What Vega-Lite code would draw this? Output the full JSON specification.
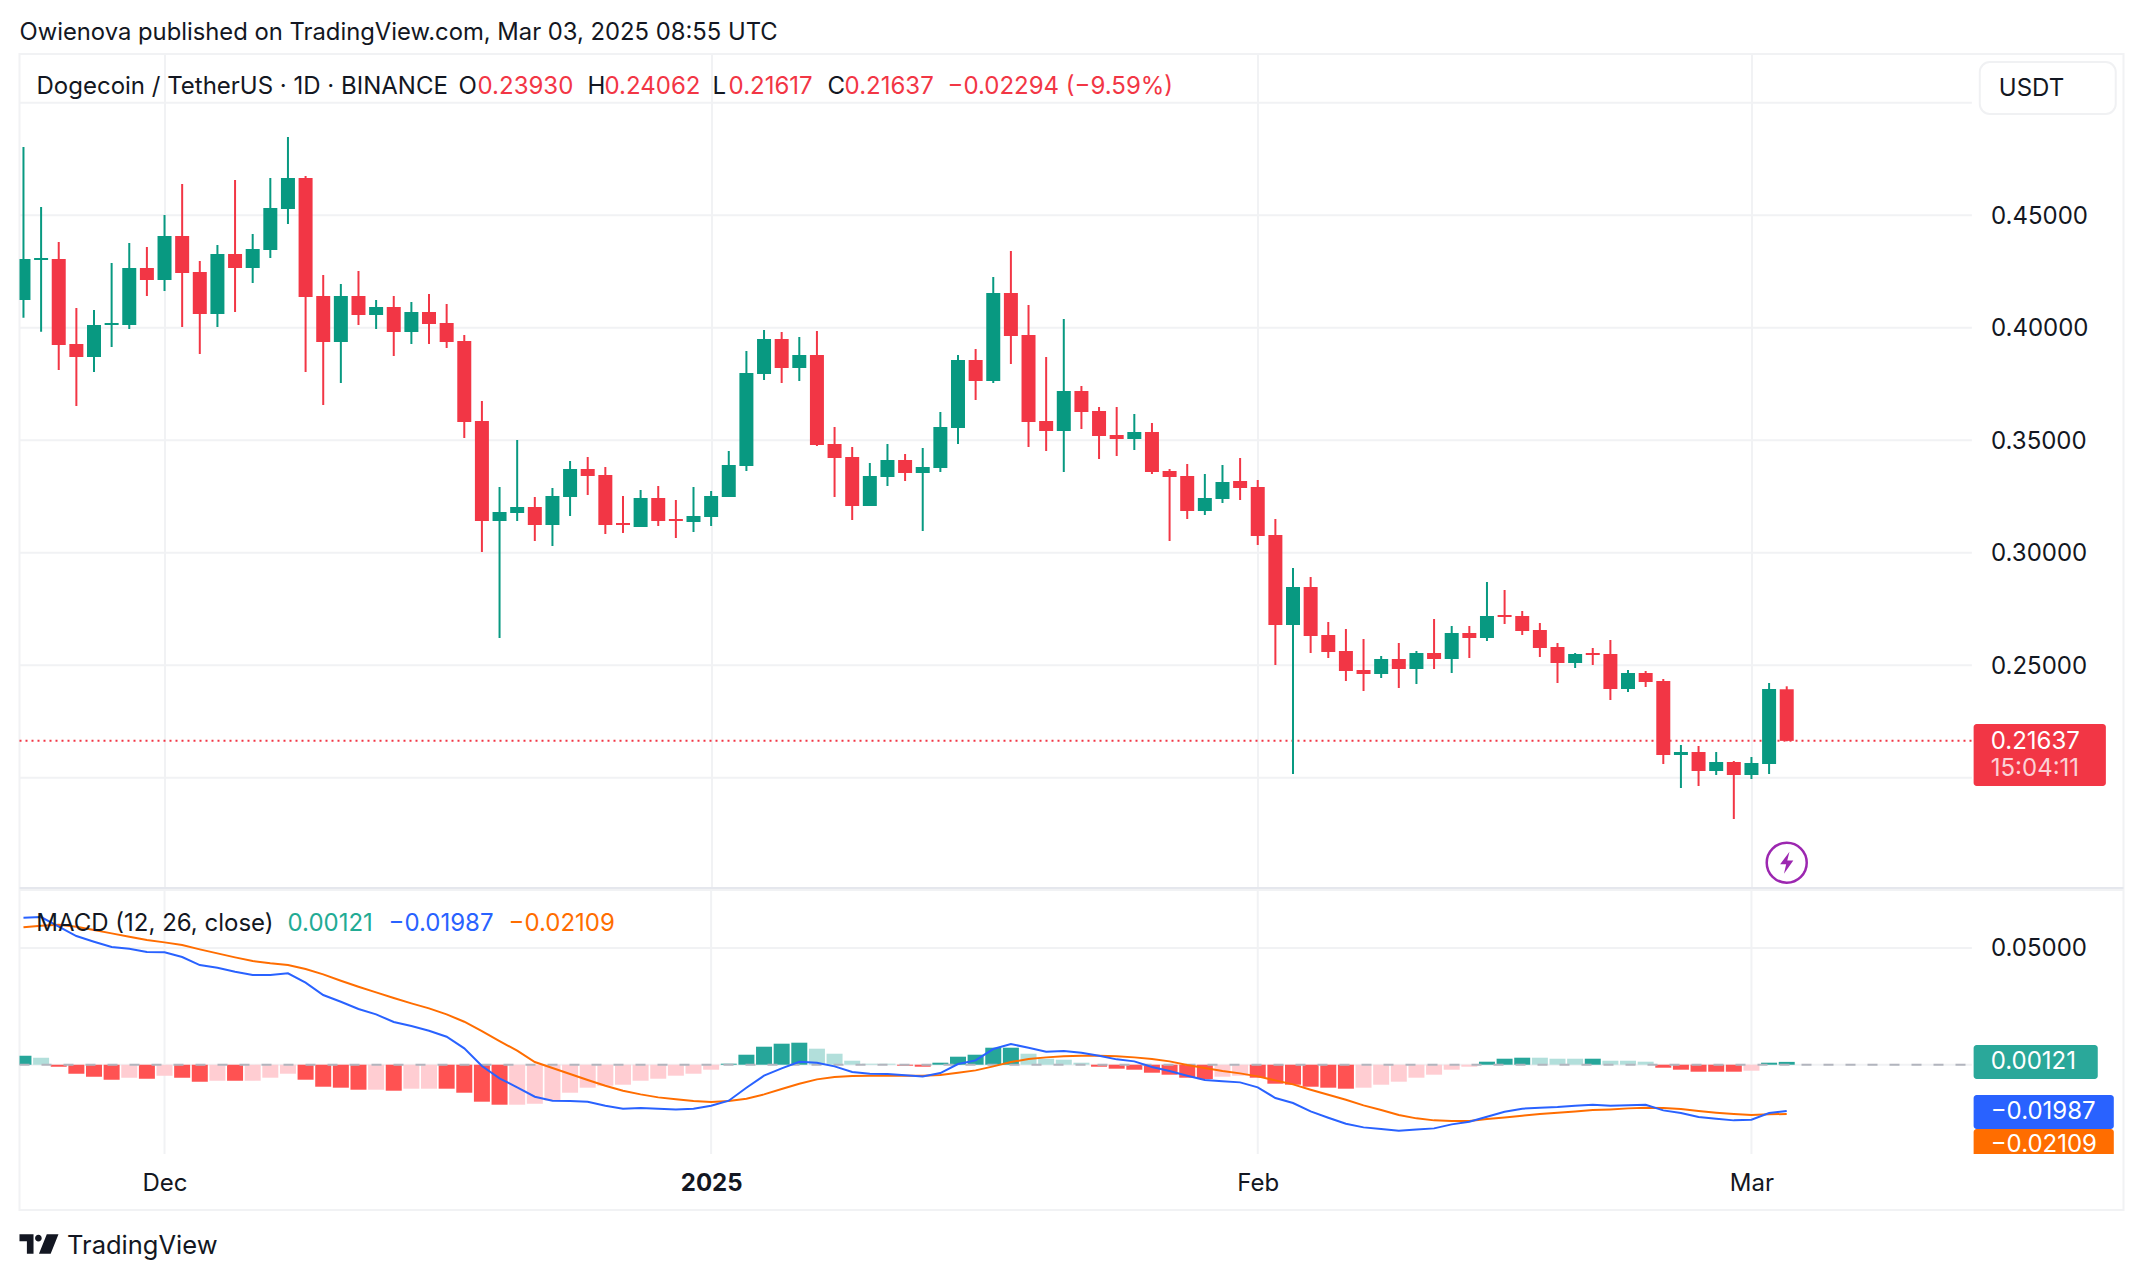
{"$schema":"https://vega.github.io/schema/vega-lite/v6.json","background":"white","padding":{"left":17.5,"top":20,"right":20,"bottom":20},"spacing":-5,
"resolve":{"scale":{"color":"independent"}},
"config":{"view":{"stroke":"#f1f2f4","strokeWidth":2},"font":"Inter","axis":{"labelFont":"Inter","labelFontSize":24,"labelColor":"#131722","title":null,"domain":false,"ticks":false,"tickSize":0},"text":{"font":"Inter","fontSize":24,"align":"left","baseline":"middle"}},
"datasets":{
"candles":[
{"date":"2024-11-23","open":0.41231,"high":0.48031,"low":0.40446,"close":0.43053,"dir":"up"},
{"date":"2024-11-24","open":0.43009,"high":0.45364,"low":0.39824,"close":0.43098,"dir":"up"},
{"date":"2024-11-25","open":0.43053,"high":0.43809,"low":0.3812,"close":0.39231,"dir":"down"},
{"date":"2024-11-26","open":0.39276,"high":0.40876,"low":0.3652,"close":0.38698,"dir":"down"},
{"date":"2024-11-27","open":0.38698,"high":0.40787,"low":0.38031,"close":0.4012,"dir":"up"},
{"date":"2024-11-28","open":0.4012,"high":0.42876,"low":0.39142,"close":0.40209,"dir":"up"},
{"date":"2024-11-29","open":0.4012,"high":0.43764,"low":0.39942,"close":0.42653,"dir":"up"},
{"date":"2024-11-30","open":0.42653,"high":0.43587,"low":0.41409,"close":0.4212,"dir":"down"},
{"date":"2024-12-01","open":0.4212,"high":0.45009,"low":0.41631,"close":0.44076,"dir":"up"},
{"date":"2024-12-02","open":0.44076,"high":0.46387,"low":0.40031,"close":0.42431,"dir":"down"},
{"date":"2024-12-03","open":0.42476,"high":0.42964,"low":0.38831,"close":0.40609,"dir":"down"},
{"date":"2024-12-04","open":0.40609,"high":0.43676,"low":0.40031,"close":0.43276,"dir":"up"},
{"date":"2024-12-05","open":0.43276,"high":0.46564,"low":0.40698,"close":0.42653,"dir":"down"},
{"date":"2024-12-06","open":0.42653,"high":0.44164,"low":0.41987,"close":0.43498,"dir":"up"},
{"date":"2024-12-07","open":0.43453,"high":0.46653,"low":0.43098,"close":0.4532,"dir":"up"},
{"date":"2024-12-08","open":0.45276,"high":0.48476,"low":0.44609,"close":0.46653,"dir":"up"},
{"date":"2024-12-09","open":0.46653,"high":0.46742,"low":0.38031,"close":0.41364,"dir":"down"},
{"date":"2024-12-10","open":0.41409,"high":0.42342,"low":0.36564,"close":0.39364,"dir":"down"},
{"date":"2024-12-11","open":0.39364,"high":0.41942,"low":0.37542,"close":0.41409,"dir":"up"},
{"date":"2024-12-12","open":0.41409,"high":0.4252,"low":0.4012,"close":0.40564,"dir":"down"},
{"date":"2024-12-13","open":0.40564,"high":0.41231,"low":0.39942,"close":0.4092,"dir":"up"},
{"date":"2024-12-14","open":0.4092,"high":0.41409,"low":0.38742,"close":0.39809,"dir":"down"},
{"date":"2024-12-15","open":0.39809,"high":0.41142,"low":0.39276,"close":0.40698,"dir":"up"},
{"date":"2024-12-16","open":0.40698,"high":0.41498,"low":0.39276,"close":0.40164,"dir":"down"},
{"date":"2024-12-17","open":0.40209,"high":0.41053,"low":0.39098,"close":0.39364,"dir":"down"},
{"date":"2024-12-18","open":0.39409,"high":0.39676,"low":0.35098,"close":0.35809,"dir":"down"},
{"date":"2024-12-19","open":0.35853,"high":0.36742,"low":0.30031,"close":0.31409,"dir":"down"},
{"date":"2024-12-20","open":0.31409,"high":0.3292,"low":0.26209,"close":0.31809,"dir":"up"},
{"date":"2024-12-21","open":0.31764,"high":0.35009,"low":0.31409,"close":0.32031,"dir":"up"},
{"date":"2024-12-22","open":0.32031,"high":0.32476,"low":0.3052,"close":0.31231,"dir":"down"},
{"date":"2024-12-23","open":0.31231,"high":0.32876,"low":0.30298,"close":0.3252,"dir":"up"},
{"date":"2024-12-24","open":0.32476,"high":0.34076,"low":0.31631,"close":0.3372,"dir":"up"},
{"date":"2024-12-25","open":0.3372,"high":0.34253,"low":0.32564,"close":0.33409,"dir":"down"},
{"date":"2024-12-26","open":0.33453,"high":0.33809,"low":0.30831,"close":0.31231,"dir":"down"},
{"date":"2024-12-27","open":0.3132,"high":0.3252,"low":0.30876,"close":0.31231,"dir":"down"},
{"date":"2024-12-28","open":0.31142,"high":0.32787,"low":0.31142,"close":0.32431,"dir":"up"},
{"date":"2024-12-29","open":0.32431,"high":0.32964,"low":0.31187,"close":0.31409,"dir":"down"},
{"date":"2024-12-30","open":0.31498,"high":0.32342,"low":0.30653,"close":0.31409,"dir":"down"},
{"date":"2024-12-31","open":0.31364,"high":0.3292,"low":0.3092,"close":0.31631,"dir":"up"},
{"date":"2025-01-01","open":0.31587,"high":0.32742,"low":0.31187,"close":0.3252,"dir":"up"},
{"date":"2025-01-02","open":0.32476,"high":0.3452,"low":0.32476,"close":0.33898,"dir":"up"},
{"date":"2025-01-03","open":0.33853,"high":0.38964,"low":0.33631,"close":0.37987,"dir":"up"},
{"date":"2025-01-04","open":0.37942,"high":0.39898,"low":0.37676,"close":0.39498,"dir":"up"},
{"date":"2025-01-05","open":0.39498,"high":0.39809,"low":0.37542,"close":0.38209,"dir":"down"},
{"date":"2025-01-06","open":0.38209,"high":0.39587,"low":0.37631,"close":0.38787,"dir":"up"},
{"date":"2025-01-07","open":0.38787,"high":0.39853,"low":0.34742,"close":0.34787,"dir":"down"},
{"date":"2025-01-08","open":0.34831,"high":0.35587,"low":0.32476,"close":0.34209,"dir":"down"},
{"date":"2025-01-09","open":0.34253,"high":0.34698,"low":0.31453,"close":0.32076,"dir":"down"},
{"date":"2025-01-10","open":0.32076,"high":0.33987,"low":0.32076,"close":0.33409,"dir":"up"},
{"date":"2025-01-11","open":0.33364,"high":0.34831,"low":0.32964,"close":0.3412,"dir":"up"},
{"date":"2025-01-12","open":0.3412,"high":0.34387,"low":0.33187,"close":0.33542,"dir":"down"},
{"date":"2025-01-13","open":0.33542,"high":0.34653,"low":0.30964,"close":0.33809,"dir":"up"},
{"date":"2025-01-14","open":0.33764,"high":0.36253,"low":0.33587,"close":0.35587,"dir":"up"},
{"date":"2025-01-15","open":0.35542,"high":0.38787,"low":0.34831,"close":0.38564,"dir":"up"},
{"date":"2025-01-16","open":0.38564,"high":0.39053,"low":0.36787,"close":0.37631,"dir":"down"},
{"date":"2025-01-17","open":0.37631,"high":0.42253,"low":0.37542,"close":0.41542,"dir":"up"},
{"date":"2025-01-18","open":0.41542,"high":0.43409,"low":0.38387,"close":0.39631,"dir":"down"},
{"date":"2025-01-19","open":0.39676,"high":0.41009,"low":0.34698,"close":0.35809,"dir":"down"},
{"date":"2025-01-20","open":0.35853,"high":0.38698,"low":0.3452,"close":0.35409,"dir":"down"},
{"date":"2025-01-21","open":0.35409,"high":0.40387,"low":0.33587,"close":0.37187,"dir":"up"},
{"date":"2025-01-22","open":0.37187,"high":0.37409,"low":0.35498,"close":0.36253,"dir":"down"},
{"date":"2025-01-23","open":0.36298,"high":0.36476,"low":0.34164,"close":0.35187,"dir":"down"},
{"date":"2025-01-24","open":0.35231,"high":0.36476,"low":0.34298,"close":0.35053,"dir":"down"},
{"date":"2025-01-25","open":0.35053,"high":0.36164,"low":0.34564,"close":0.35364,"dir":"up"},
{"date":"2025-01-26","open":0.35364,"high":0.35764,"low":0.33498,"close":0.33587,"dir":"down"},
{"date":"2025-01-27","open":0.33631,"high":0.3372,"low":0.3052,"close":0.33364,"dir":"down"},
{"date":"2025-01-28","open":0.33409,"high":0.33942,"low":0.31498,"close":0.31853,"dir":"down"},
{"date":"2025-01-29","open":0.31853,"high":0.33498,"low":0.31676,"close":0.32431,"dir":"up"},
{"date":"2025-01-30","open":0.32387,"high":0.33898,"low":0.32209,"close":0.33142,"dir":"up"},
{"date":"2025-01-31","open":0.33187,"high":0.34209,"low":0.32342,"close":0.32876,"dir":"down"},
{"date":"2025-02-01","open":0.3292,"high":0.33231,"low":0.30342,"close":0.30742,"dir":"down"},
{"date":"2025-02-02","open":0.30787,"high":0.31498,"low":0.25009,"close":0.26787,"dir":"down"},
{"date":"2025-02-03","open":0.26787,"high":0.2932,"low":0.20164,"close":0.28476,"dir":"up"},
{"date":"2025-02-04","open":0.28476,"high":0.2892,"low":0.25542,"close":0.26298,"dir":"down"},
{"date":"2025-02-05","open":0.26342,"high":0.2692,"low":0.2532,"close":0.25587,"dir":"down"},
{"date":"2025-02-06","open":0.25631,"high":0.26609,"low":0.24298,"close":0.24742,"dir":"down"},
{"date":"2025-02-07","open":0.24787,"high":0.26164,"low":0.23853,"close":0.24609,"dir":"down"},
{"date":"2025-02-08","open":0.24609,"high":0.25409,"low":0.24431,"close":0.25276,"dir":"up"},
{"date":"2025-02-09","open":0.25276,"high":0.25987,"low":0.23987,"close":0.24831,"dir":"down"},
{"date":"2025-02-10","open":0.24831,"high":0.25631,"low":0.24164,"close":0.25542,"dir":"up"},
{"date":"2025-02-11","open":0.25542,"high":0.27053,"low":0.24831,"close":0.25276,"dir":"down"},
{"date":"2025-02-12","open":0.25276,"high":0.26742,"low":0.24653,"close":0.26431,"dir":"up"},
{"date":"2025-02-13","open":0.26431,"high":0.26742,"low":0.2532,"close":0.26209,"dir":"down"},
{"date":"2025-02-14","open":0.26209,"high":0.28698,"low":0.26076,"close":0.27187,"dir":"up"},
{"date":"2025-02-15","open":0.27231,"high":0.28342,"low":0.26831,"close":0.27142,"dir":"down"},
{"date":"2025-02-16","open":0.27187,"high":0.27409,"low":0.26342,"close":0.2652,"dir":"down"},
{"date":"2025-02-17","open":0.26564,"high":0.26876,"low":0.25364,"close":0.25764,"dir":"down"},
{"date":"2025-02-18","open":0.25809,"high":0.25987,"low":0.24209,"close":0.25098,"dir":"down"},
{"date":"2025-02-19","open":0.25098,"high":0.25542,"low":0.24876,"close":0.25498,"dir":"up"},
{"date":"2025-02-20","open":0.25542,"high":0.25764,"low":0.25009,"close":0.25453,"dir":"down"},
{"date":"2025-02-21","open":0.25498,"high":0.2612,"low":0.23453,"close":0.23942,"dir":"down"},
{"date":"2025-02-22","open":0.23942,"high":0.24787,"low":0.23809,"close":0.24653,"dir":"up"},
{"date":"2025-02-23","open":0.24653,"high":0.24742,"low":0.24031,"close":0.24253,"dir":"down"},
{"date":"2025-02-24","open":0.24298,"high":0.24387,"low":0.20609,"close":0.21009,"dir":"down"},
{"date":"2025-02-25","open":0.21009,"high":0.21453,"low":0.19542,"close":0.21142,"dir":"up"},
{"date":"2025-02-26","open":0.21142,"high":0.21409,"low":0.19631,"close":0.20298,"dir":"down"},
{"date":"2025-02-27","open":0.20298,"high":0.21142,"low":0.2012,"close":0.20698,"dir":"up"},
{"date":"2025-02-28","open":0.20698,"high":0.20742,"low":0.18164,"close":0.2012,"dir":"down"},
{"date":"2025-03-01","open":0.2012,"high":0.2092,"low":0.19942,"close":0.20653,"dir":"up"},
{"date":"2025-03-02","open":0.20609,"high":0.24209,"low":0.20164,"close":0.23942,"dir":"up"},
{"date":"2025-03-03","open":0.2393,"high":0.24062,"low":0.21617,"close":0.21637,"dir":"down"}
],
"macd":[
{"date":"2024-11-23","hist":0.00386,"tone":"up+","macd":0.06298,"signal":0.05884},
{"date":"2024-11-24","hist":0.003,"tone":"up-","macd":0.06327,"signal":0.05956},
{"date":"2024-11-25","hist":-0.00086,"tone":"down+","macd":0.05913,"signal":0.05998},
{"date":"2024-11-26","hist":-0.00386,"tone":"down+","macd":0.05513,"signal":0.05913},
{"date":"2024-11-27","hist":-0.00514,"tone":"down+","macd":0.0527,"signal":0.0577},
{"date":"2024-11-28","hist":-0.00643,"tone":"down+","macd":0.05042,"signal":0.05627},
{"date":"2024-11-29","hist":-0.00557,"tone":"down-","macd":0.0497,"signal":0.05484},
{"date":"2024-11-30","hist":-0.006,"tone":"down+","macd":0.04827,"signal":0.05341},
{"date":"2024-12-01","hist":-0.00471,"tone":"down-","macd":0.04813,"signal":0.05241},
{"date":"2024-12-02","hist":-0.00557,"tone":"down+","macd":0.04613,"signal":0.05127},
{"date":"2024-12-03","hist":-0.00728,"tone":"down+","macd":0.0427,"signal":0.04942},
{"date":"2024-12-04","hist":-0.00686,"tone":"down-","macd":0.04156,"signal":0.0477},
{"date":"2024-12-05","hist":-0.00686,"tone":"down+","macd":0.03985,"signal":0.04599},
{"date":"2024-12-06","hist":-0.00686,"tone":"down-","macd":0.03842,"signal":0.04442},
{"date":"2024-12-07","hist":-0.00557,"tone":"down-","macd":0.03842,"signal":0.04342},
{"date":"2024-12-08","hist":-0.00386,"tone":"down-","macd":0.03913,"signal":0.0427},
{"date":"2024-12-09","hist":-0.00643,"tone":"down+","macd":0.03513,"signal":0.04099},
{"date":"2024-12-10","hist":-0.00943,"tone":"down+","macd":0.02985,"signal":0.0387},
{"date":"2024-12-11","hist":-0.00985,"tone":"down+","macd":0.02699,"signal":0.03599},
{"date":"2024-12-12","hist":-0.01071,"tone":"down+","macd":0.02385,"signal":0.03342},
{"date":"2024-12-13","hist":-0.01071,"tone":"down-","macd":0.02157,"signal":0.03099},
{"date":"2024-12-14","hist":-0.01114,"tone":"down+","macd":0.01828,"signal":0.02856},
{"date":"2024-12-15","hist":-0.01028,"tone":"down-","macd":0.01657,"signal":0.02628},
{"date":"2024-12-16","hist":-0.01028,"tone":"down-","macd":0.01457,"signal":0.02414},
{"date":"2024-12-17","hist":-0.01028,"tone":"down+","macd":0.012,"signal":0.02157},
{"date":"2024-12-18","hist":-0.012,"tone":"down+","macd":0.007,"signal":0.01842},
{"date":"2024-12-19","hist":-0.01585,"tone":"down+","macd":-0.00057,"signal":0.01442},
{"date":"2024-12-20","hist":-0.01714,"tone":"down+","macd":-0.00586,"signal":0.01014},
{"date":"2024-12-21","hist":-0.01714,"tone":"down-","macd":-0.00971,"signal":0.006},
{"date":"2024-12-22","hist":-0.01671,"tone":"down-","macd":-0.01371,"signal":0.00114},
{"date":"2024-12-23","hist":-0.01542,"tone":"down-","macd":-0.01542,"signal":-0.00143},
{"date":"2024-12-24","hist":-0.012,"tone":"down-","macd":-0.01557,"signal":-0.004},
{"date":"2024-12-25","hist":-0.00985,"tone":"down-","macd":-0.01585,"signal":-0.00657},
{"date":"2024-12-26","hist":-0.009,"tone":"down-","macd":-0.01757,"signal":-0.009},
{"date":"2024-12-27","hist":-0.00857,"tone":"down-","macd":-0.01885,"signal":-0.01114},
{"date":"2024-12-28","hist":-0.00686,"tone":"down-","macd":-0.01857,"signal":-0.01271},
{"date":"2024-12-29","hist":-0.006,"tone":"down-","macd":-0.01885,"signal":-0.014},
{"date":"2024-12-30","hist":-0.00471,"tone":"down-","macd":-0.01914,"signal":-0.01485},
{"date":"2024-12-31","hist":-0.00386,"tone":"down-","macd":-0.01885,"signal":-0.01557},
{"date":"2025-01-01","hist":-0.00214,"tone":"down-","macd":-0.01757,"signal":-0.016},
{"date":"2025-01-02","hist":0.00043,"tone":"up+","macd":-0.01542,"signal":-0.01557},
{"date":"2025-01-03","hist":0.00428,"tone":"up+","macd":-0.00985,"signal":-0.01457},
{"date":"2025-01-04","hist":0.00771,"tone":"up+","macd":-0.00471,"signal":-0.01271},
{"date":"2025-01-05","hist":0.009,"tone":"up+","macd":-0.00157,"signal":-0.01043},
{"date":"2025-01-06","hist":0.00943,"tone":"up+","macd":0.00129,"signal":-0.00814},
{"date":"2025-01-07","hist":0.00686,"tone":"up-","macd":0.00086,"signal":-0.00628},
{"date":"2025-01-08","hist":0.00471,"tone":"up-","macd":-0.00071,"signal":-0.00528},
{"date":"2025-01-09","hist":0.00171,"tone":"up-","macd":-0.00314,"signal":-0.00486},
{"date":"2025-01-10","hist":0.00043,"tone":"up-","macd":-0.00386,"signal":-0.00471},
{"date":"2025-01-11","hist":0.00043,"tone":"up-","macd":-0.004,"signal":-0.00471},
{"date":"2025-01-12","hist":-0.00043,"tone":"down+","macd":-0.00457,"signal":-0.00471},
{"date":"2025-01-13","hist":-0.00086,"tone":"down+","macd":-0.005,"signal":-0.00471},
{"date":"2025-01-14","hist":0.00086,"tone":"up+","macd":-0.00357,"signal":-0.00443},
{"date":"2025-01-15","hist":0.00343,"tone":"up+","macd":0.00029,"signal":-0.00343},
{"date":"2025-01-16","hist":0.00428,"tone":"up+","macd":0.00186,"signal":-0.00243},
{"date":"2025-01-17","hist":0.00728,"tone":"up+","macd":0.00671,"signal":-0.00071},
{"date":"2025-01-18","hist":0.00728,"tone":"up+","macd":0.00885,"signal":0.00114},
{"date":"2025-01-19","hist":0.00471,"tone":"up-","macd":0.00728,"signal":0.00243},
{"date":"2025-01-20","hist":0.00257,"tone":"up-","macd":0.00557,"signal":0.00314},
{"date":"2025-01-21","hist":0.00214,"tone":"up-","macd":0.00586,"signal":0.00357},
{"date":"2025-01-22","hist":0.00086,"tone":"up-","macd":0.00514,"signal":0.00386},
{"date":"2025-01-23","hist":-0.00086,"tone":"down+","macd":0.00386,"signal":0.00386},
{"date":"2025-01-24","hist":-0.00171,"tone":"down+","macd":0.00229,"signal":0.00357},
{"date":"2025-01-25","hist":-0.00214,"tone":"down+","macd":0.00143,"signal":0.00314},
{"date":"2025-01-26","hist":-0.00343,"tone":"down+","macd":-0.001,"signal":0.00243},
{"date":"2025-01-27","hist":-0.00428,"tone":"down+","macd":-0.00271,"signal":0.00143},
{"date":"2025-01-28","hist":-0.00557,"tone":"down+","macd":-0.00471,"signal":-0.00014},
{"date":"2025-01-29","hist":-0.00614,"tone":"down+","macd":-0.00657,"signal":-0.00143},
{"date":"2025-01-30","hist":-0.00514,"tone":"down-","macd":-0.00714,"signal":-0.00271},
{"date":"2025-01-31","hist":-0.00471,"tone":"down-","macd":-0.00757,"signal":-0.00371},
{"date":"2025-02-01","hist":-0.00557,"tone":"down+","macd":-0.00971,"signal":-0.005},
{"date":"2025-02-02","hist":-0.00814,"tone":"down+","macd":-0.01428,"signal":-0.00671},
{"date":"2025-02-03","hist":-0.00857,"tone":"down+","macd":-0.01642,"signal":-0.00843},
{"date":"2025-02-04","hist":-0.00943,"tone":"down+","macd":-0.02,"signal":-0.01071},
{"date":"2025-02-05","hist":-0.00985,"tone":"down+","macd":-0.02271,"signal":-0.01285},
{"date":"2025-02-06","hist":-0.01028,"tone":"down+","macd":-0.02528,"signal":-0.015},
{"date":"2025-02-07","hist":-0.00985,"tone":"down-","macd":-0.02685,"signal":-0.01742},
{"date":"2025-02-08","hist":-0.00857,"tone":"down-","macd":-0.02756,"signal":-0.01942},
{"date":"2025-02-09","hist":-0.00728,"tone":"down-","macd":-0.02828,"signal":-0.02157},
{"date":"2025-02-10","hist":-0.00557,"tone":"down-","macd":-0.02771,"signal":-0.02299},
{"date":"2025-02-11","hist":-0.00428,"tone":"down-","macd":-0.02728,"signal":-0.02385},
{"date":"2025-02-12","hist":-0.00214,"tone":"down-","macd":-0.02556,"signal":-0.02414},
{"date":"2025-02-13","hist":-0.00086,"tone":"down-","macd":-0.02442,"signal":-0.02414},
{"date":"2025-02-14","hist":0.00129,"tone":"up+","macd":-0.02228,"signal":-0.02328},
{"date":"2025-02-15","hist":0.00257,"tone":"up+","macd":-0.02014,"signal":-0.02257},
{"date":"2025-02-16","hist":0.003,"tone":"up+","macd":-0.01885,"signal":-0.02185},
{"date":"2025-02-17","hist":0.003,"tone":"up-","macd":-0.01842,"signal":-0.02114},
{"date":"2025-02-18","hist":0.00257,"tone":"up-","macd":-0.01814,"signal":-0.02057},
{"date":"2025-02-19","hist":0.00257,"tone":"up-","macd":-0.01757,"signal":-0.02},
{"date":"2025-02-20","hist":0.00257,"tone":"up+","macd":-0.01714,"signal":-0.01942},
{"date":"2025-02-21","hist":0.00171,"tone":"up-","macd":-0.01757,"signal":-0.01914},
{"date":"2025-02-22","hist":0.00171,"tone":"up-","macd":-0.01742,"signal":-0.01871},
{"date":"2025-02-23","hist":0.00129,"tone":"up-","macd":-0.01714,"signal":-0.01842},
{"date":"2025-02-24","hist":-0.00129,"tone":"down+","macd":-0.01957,"signal":-0.01857},
{"date":"2025-02-25","hist":-0.00214,"tone":"down+","macd":-0.02071,"signal":-0.019},
{"date":"2025-02-26","hist":-0.003,"tone":"down+","macd":-0.02242,"signal":-0.01985},
{"date":"2025-02-27","hist":-0.003,"tone":"down+","macd":-0.02314,"signal":-0.02057},
{"date":"2025-02-28","hist":-0.003,"tone":"down+","macd":-0.02385,"signal":-0.02114},
{"date":"2025-03-01","hist":-0.00257,"tone":"down-","macd":-0.02357,"signal":-0.02157},
{"date":"2025-03-02","hist":0.00086,"tone":"up+","macd":-0.02071,"signal":-0.02128},
{"date":"2025-03-03","hist":0.00121,"tone":"up+","macd":-0.01987,"signal":-0.02109}
]},
"vconcat":[
{"width":2104,"height":834,
"encoding":{"x":{"field":"date","type":"temporal","scale":{"type":"utc","padding":0,"domain":["2024-11-22T18:36:00Z","2025-03-22T02:24:00Z"]},"axis":{"grid":true,"gridColor":"#f1f2f4","gridWidth":2,"labels":false,"values":[{"year":2024,"month":12,"date":1,"utc":true},{"year":2025,"month":1,"date":1,"utc":true},{"year":2025,"month":2,"date":1,"utc":true},{"year":2025,"month":3,"date":1,"utc":true}]}}},
"layer":[
{"data":{"values":[{"date":"2024-11-22T18:36:00Z","end":"2025-03-13T12:00:00Z","value":0.5},{"date":"2024-11-22T18:36:00Z","end":"2025-03-13T12:00:00Z","value":0.45},{"date":"2024-11-22T18:36:00Z","end":"2025-03-13T12:00:00Z","value":0.4},{"date":"2024-11-22T18:36:00Z","end":"2025-03-13T12:00:00Z","value":0.35},{"date":"2024-11-22T18:36:00Z","end":"2025-03-13T12:00:00Z","value":0.3},{"date":"2024-11-22T18:36:00Z","end":"2025-03-13T12:00:00Z","value":0.25},{"date":"2024-11-22T18:36:00Z","end":"2025-03-13T12:00:00Z","value":0.2}]},
"mark":{"type":"rule","color":"#f1f2f4","strokeWidth":2},
"encoding":{"x2":{"field":"end"},"y":{"field":"value","type":"quantitative","scale":{"domain":[0.15098,0.52164],"nice":false,"zero":false},"axis":{"orient":"right","offset":-152,"labelPadding":19,"labelOffset":1,"values":[0.25,0.3,0.35,0.4,0.45],"format":".5f","grid":false}}}},
{"data":{"values":[{"date":"2024-11-22T18:36:00Z","end":"2025-03-22T02:24:00Z","value":0.15098}]},
"mark":{"type":"rule","color":"#e0e3eb","strokeWidth":1.5},
"encoding":{"x2":{"field":"end"},"y":{"field":"value","type":"quantitative"}}},
{"data":{"values":[{"date":"2024-11-22T18:36:00Z","end":"2025-03-13T12:00:00Z","value":0.21637}]},
"mark":{"type":"rule","color":"#f23645","strokeWidth":2,"strokeDash":[2,4]},
"encoding":{"x2":{"field":"end"},"y":{"field":"value","type":"quantitative"}}},
{"data":{"name":"candles"},"mark":{"type":"rule","strokeWidth":2,"clip":true},
"encoding":{"y":{"field":"low","type":"quantitative"},"y2":{"field":"high"},"color":{"field":"dir","type":"nominal","scale":{"domain":["up","down"],"range":["#089981","#f23645"]},"legend":null}}},
{"data":{"name":"candles"},"mark":{"type":"bar","size":14,"clip":true},
"encoding":{"y":{"field":"open","type":"quantitative"},"y2":{"field":"close"},"color":{"field":"dir","type":"nominal","legend":null}}},
{"data":{"values":[{"date":"2024-11-22T18:36:00Z","value":0.5308,"label":"Owienova published on TradingView.com, Mar 03, 2025 08:55 UTC"}]},
"mark":{"type":"text","color":"#131722","fontSize":23.8},
"encoding":{"y":{"field":"value","type":"quantitative"},"text":{"field":"label"}}},
{"data":{"values":[{"date":"2024-11-23T17:46:00Z","value":0.5071,"label":"Dogecoin / TetherUS · 1D · BINANCE"},{"date":"2024-12-17T16:14:00Z","value":0.5071,"label":"O"},{"date":"2024-12-24T23:50:00Z","value":0.5071,"label":"H"},{"date":"2025-01-01T01:55:00Z","value":0.5071,"label":"L"},{"date":"2025-01-07T14:24:00Z","value":0.5071,"label":"C"}]},
"mark":{"type":"text","color":"#131722"},
"encoding":{"y":{"field":"value","type":"quantitative"},"text":{"field":"label"}}},
{"data":{"values":[{"date":"2024-12-18T18:06:00Z","value":0.5071,"label":"0.23930"},{"date":"2024-12-25T22:58:00Z","value":0.5071,"label":"0.24062"},{"date":"2025-01-01T23:46:00Z","value":0.5071,"label":"0.21617"},{"date":"2025-01-08T13:41:00Z","value":0.5071,"label":"0.21637"},{"date":"2025-01-14T09:50:00Z","value":0.5071,"label":"−0.02294 (−9.59%)"}]},
"mark":{"type":"text","color":"#f23645"},
"encoding":{"y":{"field":"value","type":"quantitative"},"text":{"field":"label"}}},
{"data":{"values":[{"date":"2025-03-13T22:48:00Z","end":"2025-03-21T15:50:00Z","value":0.51809,"bottom":0.49498}]},
"mark":{"type":"rect","fill":"white","stroke":"#f0f1f3","strokeWidth":2,"cornerRadius":10},
"encoding":{"x2":{"field":"end"},"y":{"field":"value","type":"quantitative"},"y2":{"field":"bottom"}}},
{"data":{"values":[{"date":"2025-03-15T00:43:00Z","value":0.5062,"label":"USDT"}]},
"mark":{"type":"text","color":"#131722"},
"encoding":{"y":{"field":"value","type":"quantitative"},"text":{"field":"label"}}},
{"data":{"values":[{"date":"2025-03-13T14:24:00Z","end":"2025-03-21T02:24:00Z","value":0.22387,"bottom":0.19631}]},
"mark":{"type":"rect","fill":"#f23645","cornerRadius":3},
"encoding":{"x2":{"field":"end"},"y":{"field":"value","type":"quantitative"},"y2":{"field":"bottom"}}},
{"data":{"values":[{"date":"2025-03-14T13:41:00Z","value":0.2158,"label":"0.21637"}]},
"mark":{"type":"text","color":"white"},
"encoding":{"y":{"field":"value","type":"quantitative"},"text":{"field":"label"}}},
{"data":{"values":[{"date":"2025-03-14T13:41:00Z","value":0.2037,"label":"15:04:11"}]},
"mark":{"type":"text","color":"#fbd0d5"},
"encoding":{"y":{"field":"value","type":"quantitative"},"text":{"field":"label"}}},
{"data":{"values":[{"date":"2025-03-03","value":0.16222}]},
"mark":{"type":"point","shape":"circle","size":1600,"filled":false,"stroke":"#9c27b0","strokeWidth":2.5,"opacity":1},
"encoding":{"y":{"field":"value","type":"quantitative"}}},
{"data":{"values":[{"date":"2025-03-03","value":0.16222}]},
"mark":{"type":"point","shape":"M0.25,-1 L-0.6,0.15 L-0.05,0.15 L-0.25,1 L0.6,-0.2 L0.05,-0.2 Z","size":484,"filled":true,"fill":"#9c27b0","opacity":1},
"encoding":{"y":{"field":"value","type":"quantitative"}}}
]},
{"width":2104,"height":320,
"encoding":{"x":{"field":"date","type":"temporal","scale":{"type":"utc","padding":0,"domain":["2024-11-22T18:36:00Z","2025-03-22T02:24:00Z"]},"axis":{"grid":false,"offset":-56,"labelPadding":17,"labelBaseline":"top","values":[{"year":2024,"month":12,"date":1,"utc":true},{"year":2025,"month":1,"date":1,"utc":true},{"year":2025,"month":2,"date":1,"utc":true},{"year":2025,"month":3,"date":1,"utc":true}],"labelExpr":"utcmonth(datum.value)==0 ? '2025' : utcFormat(datum.value,'%b')","labelFontWeight":{"condition":{"test":"utcmonth(datum.value)==0","value":"bold"},"value":"normal"}}}},
"layer":[
{"data":{"values":[{"date":"2024-12-01","value":0.07485,"bottom":-0.03826},{"date":"2025-01-01","value":0.07485,"bottom":-0.03826},{"date":"2025-02-01","value":0.07485,"bottom":-0.03826},{"date":"2025-03-01","value":0.07485,"bottom":-0.03826}]},
"mark":{"type":"rule","color":"#f1f2f4","strokeWidth":2},
"encoding":{"y":{"field":"value","type":"quantitative","scale":{"domain":[-0.06225,0.07485],"nice":false,"zero":false},"axis":{"orient":"right","offset":-152,"labelPadding":19,"values":[0.05],"format":".5f","grid":false}},"y2":{"field":"bottom"}}},
{"data":{"values":[{"date":"2024-11-22T18:36:00Z","end":"2025-03-13T12:00:00Z","value":0.05},{"date":"2024-11-22T18:36:00Z","end":"2025-03-13T12:00:00Z","value":0}]},
"mark":{"type":"rule","color":"#f1f2f4","strokeWidth":2},
"encoding":{"x2":{"field":"end"},"y":{"field":"value","type":"quantitative"}}},
{"data":{"name":"macd"},"mark":{"type":"bar","size":16,"clip":true},
"encoding":{"y":{"field":"hist","type":"quantitative"},"y2":{"datum":0},"color":{"field":"tone","type":"nominal","scale":{"domain":["up+","up-","down+","down-"],"range":["#26a69a","#b2dfdb","#ff5252","#ffcdd2"]},"legend":null}}},
{"data":{"values":[{"date":"2024-11-22T18:36:00Z","end":"2025-03-13T12:00:00Z","value":0}]},
"mark":{"type":"rule","color":"#b2b5be","strokeWidth":2,"strokeDash":[10,12]},
"encoding":{"x2":{"field":"end"},"y":{"field":"value","type":"quantitative"}}},
{"data":{"name":"macd"},"mark":{"type":"line","color":"#ff6d00","strokeWidth":2,"clip":true},
"encoding":{"y":{"field":"signal","type":"quantitative"}}},
{"data":{"name":"macd"},"mark":{"type":"line","color":"#2962ff","strokeWidth":2,"clip":true},
"encoding":{"y":{"field":"macd","type":"quantitative"}}},
{"data":{"values":[{"date":"2024-11-23T17:30:00Z","value":0.06041,"label":"MACD (12, 26, close)"}]},
"mark":{"type":"text","color":"#131722"},
"encoding":{"y":{"field":"value","type":"quantitative"},"text":{"field":"label"}}},
{"data":{"values":[{"date":"2024-12-07T23:27:00Z","value":0.06041,"label":"0.00121"}]},
"mark":{"type":"text","color":"#22ab94"},
"encoding":{"y":{"field":"value","type":"quantitative"},"text":{"field":"label"}}},
{"data":{"values":[{"date":"2024-12-13T16:56:00Z","value":0.06041,"label":"−0.01987"}]},
"mark":{"type":"text","color":"#2962ff"},
"encoding":{"y":{"field":"value","type":"quantitative"},"text":{"field":"label"}}},
{"data":{"values":[{"date":"2024-12-20T12:17:00Z","value":0.06041,"label":"−0.02109"}]},
"mark":{"type":"text","color":"#ff6d00"},
"encoding":{"y":{"field":"value","type":"quantitative"},"text":{"field":"label"}}},
{"data":{"values":[{"date":"2025-03-13T14:24:00Z","end":"2025-03-20T15:22:00Z","value":0.00844,"bottom":-0.00613}]},
"mark":{"type":"rect","fill":"#2aa89a","cornerRadius":3},
"encoding":{"x2":{"field":"end"},"y":{"field":"value","type":"quantitative"},"y2":{"field":"bottom"}}},
{"data":{"values":[{"date":"2025-03-13T14:24:00Z","end":"2025-03-21T13:12:00Z","value":-0.01298,"bottom":-0.02755}]},
"mark":{"type":"rect","fill":"#2962ff","cornerRadius":3},
"encoding":{"x2":{"field":"end"},"y":{"field":"value","type":"quantitative"},"y2":{"field":"bottom"}}},
{"data":{"values":[{"date":"2025-03-13T14:24:00Z","end":"2025-03-21T13:12:00Z","value":-0.02755,"bottom":-0.0415}]},
"mark":{"type":"rect","fill":"#ff6d00","cornerRadius":3},
"encoding":{"x2":{"field":"end"},"y":{"field":"value","type":"quantitative"},"y2":{"field":"bottom"}}},
{"data":{"values":[{"date":"2025-03-14T13:41:00Z","value":0.00116,"label":"0.00121"},{"date":"2025-03-14T13:41:00Z","value":-0.02014,"label":"−0.01987"},{"date":"2025-03-14T13:41:00Z","value":-0.03453,"label":"−0.02109"}]},
"mark":{"type":"text","color":"white"},
"encoding":{"y":{"field":"value","type":"quantitative"},"text":{"field":"label"}}},
{"data":{"values":[{"date":"2025-03-13T12:00:00Z","end":"2025-03-21T20:00:00Z","value":-0.03826,"bottom":-0.0605}]},
"mark":{"type":"rect","fill":"white"},
"encoding":{"x2":{"field":"end"},"y":{"field":"value","type":"quantitative"},"y2":{"field":"bottom"}}},
{"data":{"values":[{"date":"2024-11-23T21:07:00Z","value":-0.07682}]},
"mark":{"type":"point","shape":"M-1,-0.5 L-0.28,-0.5 L-0.28,0.5 L-0.62,0.5 L-0.62,-0.14 L-1,-0.14 Z M-0.2,-0.3 A0.17,0.17 0 1 0 0.14,-0.3 A0.17,0.17 0 1 0 -0.2,-0.3 Z M0.4,-0.5 L1,-0.5 L0.6,0.5 L0,0.5 Z","size":1521,"filled":true,"fill":"#131722","opacity":1},
"encoding":{"y":{"field":"value","type":"quantitative"}}},
{"data":{"values":[{"date":"2024-11-25T11:17:00Z","value":-0.07768,"label":"TradingView"}]},
"mark":{"type":"text","color":"#131722","fontSize":25.5},
"encoding":{"y":{"field":"value","type":"quantitative"},"text":{"field":"label"}}}
]}
]}
